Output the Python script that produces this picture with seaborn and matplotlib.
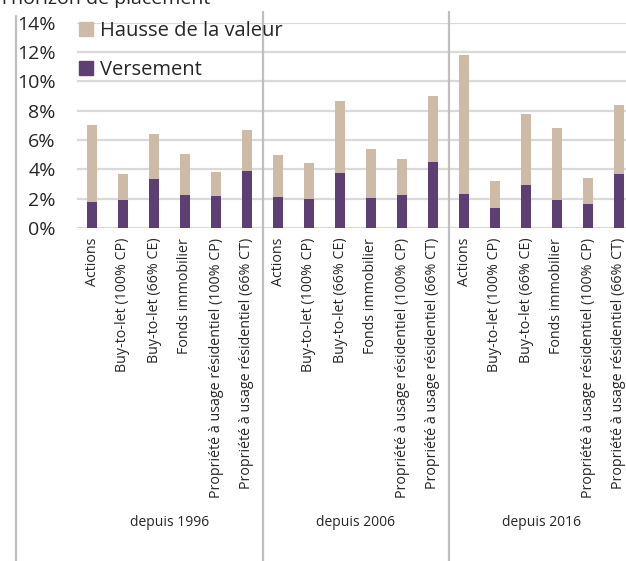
import pandas as pd
import seaborn as sns
import matplotlib.pyplot as plt
from matplotlib.patches import Patch
from matplotlib.lines import Line2D

# values (% per year)
groups = ['depuis 1996', 'depuis 2006', 'depuis 2016']
categories = ['Actions', 'Buy-to-let (100% CP)', 'Buy-to-let (66% CE)', 'Fonds immobilier',
              'Propriété à usage résidentiel (100% CP)', 'Propriété à usage résidentiel (66% CT)']
versement = [1.80, 1.93, 3.33, 2.22, 2.18, 3.86,
             2.10, 1.97, 3.74, 2.06, 2.24, 4.47,
             2.29, 1.36, 2.93, 1.90, 1.61, 3.67]
hausse = [5.20, 1.74, 3.07, 2.81, 1.62, 2.85,
          2.87, 2.47, 4.88, 3.31, 2.43, 4.51,
          9.48, 1.84, 4.85, 4.93, 1.81, 4.70]
yticks = [0, 2, 4, 6, 8, 10, 12, 14]
ytick_labels = ['0%', '2%', '4%', '6%', '8%', '10%', '12%', '14%']
title = "l'horizon de placement"

c_vers = '#5e3f74'
c_hausse = '#cdbba8'

df = pd.DataFrame({
    'groupe': [g for g in groups for _ in categories],
    'categorie': categories * len(groups),
    'versement': versement,
    'hausse': hausse,
})
df['total'] = df['versement'] + df['hausse']
df['slot'] = df['groupe'] + '|' + df['categorie']

sns.set_style('white')
plt.rcParams['font.family'] = ['Open Sans', 'DejaVu Sans']

fig = plt.figure(figsize=(6.26, 5.61), dpi=100)
ax = fig.add_axes([76.5 / 626, 333 / 561, 558 / 626, 205.5 / 561])

sns.barplot(data=df, x='slot', y='total', order=list(df['slot']), color=c_hausse,
            width=0.32, saturation=1, linewidth=0, ax=ax)
sns.barplot(data=df, x='slot', y='versement', order=list(df['slot']), color=c_vers,
            width=0.32, saturation=1, linewidth=0, ax=ax)

ax.set_xlim(-0.5, len(df) - 0.5)
ax.set_ylim(0, 14)
ax.set_yticks(yticks)
ax.set_yticklabels(ytick_labels, fontsize=14)
ax.set_xticks(range(len(df)))
ax.set_xticklabels(df['categorie'], rotation=90, fontsize=10.3, va='top')
ax.tick_params(axis='y', length=0, pad=15)
ax.tick_params(axis='x', length=0, pad=7)
ax.set_xlabel('')
ax.set_ylabel('')
ax.grid(axis='y', color='#d9d9d9', linewidth=1.6)
ax.set_axisbelow(True)
sns.despine(ax=ax, left=True, bottom=True)

# group separators and group labels
n = len(categories)
for i, g in enumerate(groups):
    ax.text(i * n + (n - 1) / 2, -1.435, g, transform=ax.get_xaxis_transform(),
            ha='center', va='center', fontsize=10)
    if i > 0:
        ax.axvline(i * n - 0.5, ymin=-1.63, ymax=1.052, color='#bfbfbf',
                   linewidth=1.6, clip_on=False)
fig.add_artist(Line2D([16 / 626, 16 / 626], [0, 545 / 561], color='#bfbfbf', linewidth=1.6))

handles = [Patch(color=c_hausse, label='Hausse de la valeur'),
           Patch(color=c_vers, label='Versement')]
ax.legend(handles=handles, loc='upper left', bbox_to_anchor=(-0.0105, 1.045), frameon=False,
          fontsize=14.5, handlelength=0.7, handleheight=0.7, handletextpad=0.35,
          labelspacing=0.95, borderaxespad=0)

fig.text(2 / 626, 1 - 3.5 / 561, title, fontsize=14, va='baseline', ha='left')

plt.savefig('out.png', dpi=100)
